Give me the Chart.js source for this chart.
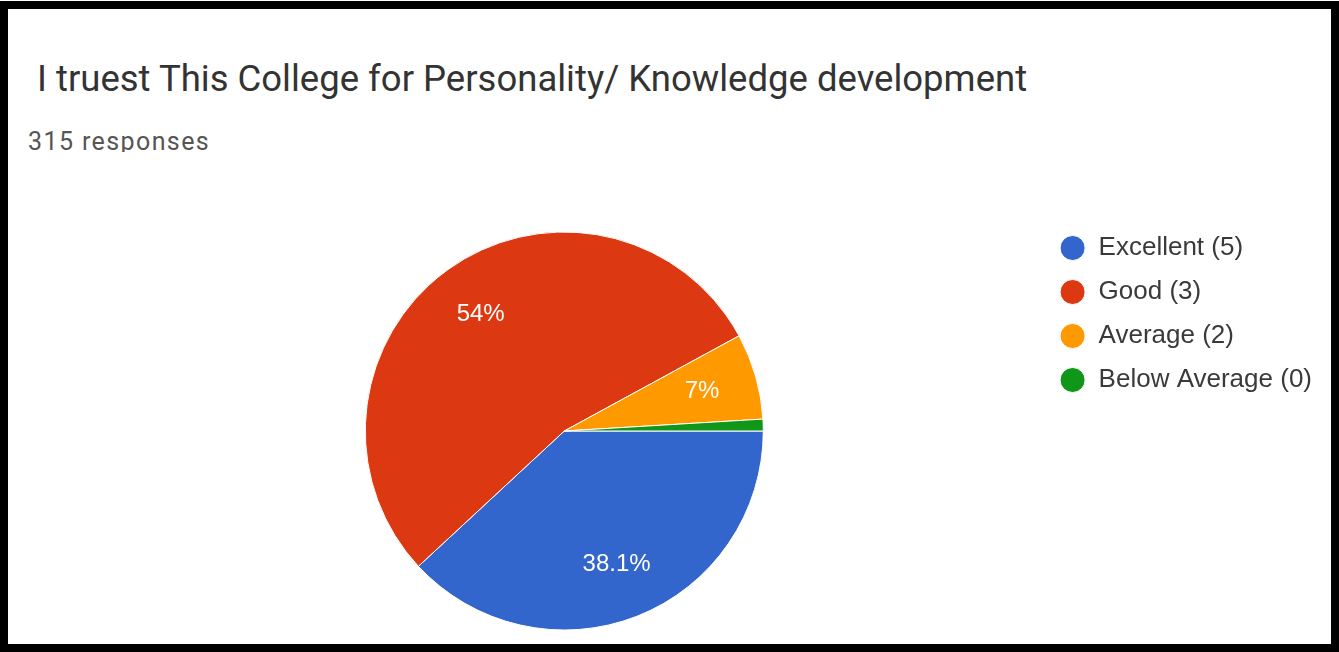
<!DOCTYPE html>
<html>
<head>
<meta charset="utf-8">
<script src="https://cdn.jsdelivr.net/npm/chart.js@4/dist/chart.umd.min.js"></script>
<style>
  html, body { margin: 0; padding: 0; background: #fff; }
  #frame { position: absolute; left: 0; top: 1px; width: 1339px; height: 651px; box-sizing: border-box; border: 8px solid #000; z-index: 2; pointer-events: none; }
  #title { position: absolute; left: 37px; top: 61px; font: 36.5px Roboto, sans-serif; line-height: 1; color: #333; white-space: nowrap; }
  #sub { position: absolute; left: 28px; top: 129px; height: 23px; overflow: hidden; font: 25px Roboto, sans-serif; letter-spacing: 1.4px; line-height: 1; color: #555; white-space: nowrap; }
  #wrap { position: absolute; left: 0; top: 212px; width: 1339px; height: 440px; }
</style>
</head>
<body>
<div id="frame"></div>
<div id="title">I truest This College for Personality/ Knowledge development</div>
<div id="sub">315 responses</div>
<div id="wrap"><canvas id="chart"></canvas></div>
<script>
// --- chart data ---
const labels = ['Excellent (5)', 'Good (3)', 'Average (2)', 'Below Average (0)'];
const responses = [120, 170, 22, 3];
const colors = ['#3366cc', '#dc3912', '#ff9900', '#109618'];

// percentage text inside the slices, like google forms
const sliceLabels = {
  id: 'sliceLabels',
  afterDatasetsDraw(chart) {
    const { ctx } = chart;
    const data = chart.data.datasets[0].data;
    const total = data.reduce((a, b) => a + b, 0);
    chart.getDatasetMeta(0).data.forEach((arc, i) => {
      const pct = data[i] / total * 100;
      if (pct < 5) return;
      const { x, y, startAngle, endAngle, outerRadius } = arc.getProps(['x', 'y', 'startAngle', 'endAngle', 'outerRadius'], true);
      const mid = (startAngle + endAngle) / 2;
      const r = outerRadius * 0.72;
      const txt = (Math.round(pct * 10) / 10) + '%';
      ctx.save();
      ctx.fillStyle = '#fff';
      ctx.font = '24px "Liberation Sans", Arial, sans-serif';
      ctx.textAlign = 'center';
      ctx.textBaseline = 'middle';
      ctx.fillText(txt, x + Math.cos(mid) * r, y + Math.sin(mid) * r);
      ctx.restore();
    });
  }
};

new Chart(document.getElementById('chart'), {
  type: 'pie',
  data: {
    labels: labels,
    datasets: [{
      data: responses,
      backgroundColor: colors,
      borderColor: '#fff',
      borderWidth: 1,
      radius: 199,
    }]
  },
  options: {
    responsive: true,
    maintainAspectRatio: false,
    animation: false,
    rotation: 90,
    layout: { padding: { left: 87, right: 17, top: 5, bottom: 7 } },
    plugins: {
      legend: {
        position: 'right',
        align: 'start',
        labels: {
          usePointStyle: true,
          pointStyle: 'circle',
          boxHeight: 17.7,
          padding: 18,
          color: '#3a3a3a',
          font: { family: '"Liberation Sans", Arial, sans-serif', size: 26 },
        },
      },
      tooltip: { enabled: false },
    },
  },
  plugins: [sliceLabels],
});
</script>
</body>
</html>
